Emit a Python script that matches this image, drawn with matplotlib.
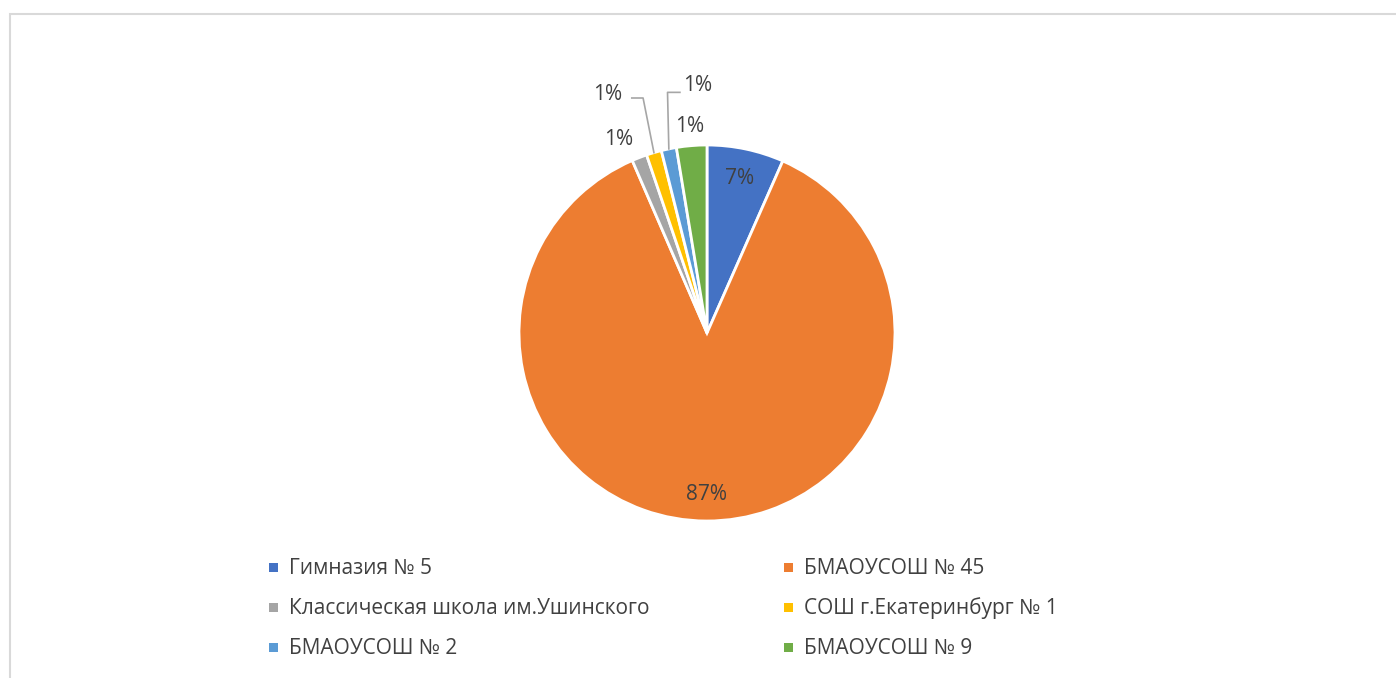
import matplotlib.pyplot as plt
from matplotlib.patches import Rectangle
import numpy as np

schools = ['Гимназия № 5', 'БМАОУСОШ № 45', 'Классическая школа им.Ушинского',
           'СОШ г.Екатеринбург № 1', 'БМАОУСОШ № 2', 'БМАОУСОШ № 9']
shares = [6.6, 86.8, 1.3, 1.3, 1.3, 2.6]
pct_labels = ['7%', '87%', '1%', '1%', '1%', '1%']
colors = ['#4472C4', '#ED7D31', '#A5A5A5', '#FFC000', '#5B9BD5', '#70AD47']

plt.rcParams['font.family'] = ['Open Sans', 'DejaVu Sans']
TXT = '#404040'
FS = 15
W, H = 1396, 678

fig = plt.figure(figsize=(W / 100, H / 100), dpi=100)
# chart frame (runs off the right and bottom edges)
fig.patches.append(Rectangle((9.5 / W, -0.1), 1.2, (H - 13.5) / H + 0.1,
                             transform=fig.transFigure, fill=False,
                             edgecolor='#D9D9D9', linewidth=1.5))

R = 188
cx, cy = 707, H - 333
ax = fig.add_axes([(cx - R) / W, (cy - R) / H, 2 * R / W, 2 * R / H])

wedges, _ = ax.pie(shares, colors=colors, startangle=90, counterclock=False,
                   radius=1, wedgeprops=dict(edgecolor='white', linewidth=2))
ax.set_xlim(-1, 1)
ax.set_ylim(-1, 1)
ax.axis('off')

# label radius / angle nudge per slice; None -> uses leader line
label_r = [0.84, 0.86, 1.13, None, None, 1.1]
label_dang = [0, 0, 3.5, 0, 0, 0]
for i, w in enumerate(wedges):
    if label_r[i] is None:
        continue
    mid = np.deg2rad((w.theta1 + w.theta2) / 2 + label_dang[i])
    r = label_r[i]
    ax.text(r * np.cos(mid), r * np.sin(mid), pct_labels[i], ha='center',
            va='center', fontsize=FS, color=TXT)

# leader-line labels (yellow and light blue slices)
lead = {3: ((-0.527, 1.266), (-0.40, 1.25), (-0.34, 1.25)),
        4: ((-0.048, 1.314), (-0.144, 1.28), (-0.21, 1.28))}
for i, (tpos, p0, knee) in lead.items():
    w = wedges[i]
    mid = np.deg2rad((w.theta1 + w.theta2) / 2)
    edge = (np.cos(mid), np.sin(mid))
    ax.plot([p0[0], knee[0], edge[0]], [p0[1], knee[1], edge[1]],
            color='#A6A6A6', linewidth=1.2, clip_on=False)
    ax.text(tpos[0], tpos[1], pct_labels[i], ha='center', va='center',
            fontsize=FS, color=TXT)

# legend, two columns
col_x = [273, 788]
row_y = [568, 608, 648]
for i, name in enumerate(schools):
    x = col_x[i % 2]
    y = H - row_y[i // 2]
    fig.patches.append(Rectangle(((x - 4) / W, (y - 4) / H), 9 / W, 9 / H,
                                 transform=fig.transFigure, facecolor=colors[i],
                                 edgecolor='none'))
    fig.text((x + 16) / W, y / H, name, ha='left', va='center',
             fontsize=FS, color=TXT)

fig.savefig('out.png', dpi=100)
